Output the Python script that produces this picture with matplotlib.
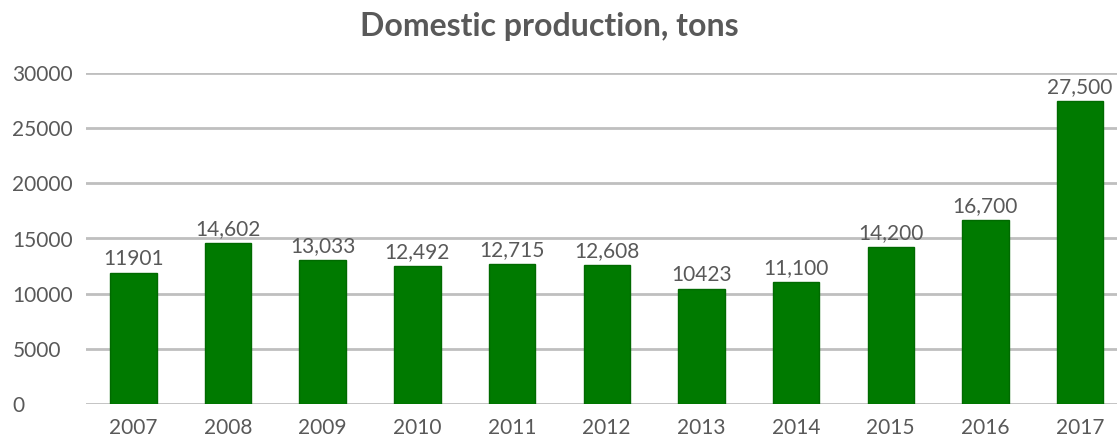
import numpy as np
import matplotlib.pyplot as plt

plt.rcParams['font.family'] = ['Lato', 'DejaVu Sans']

years = ['2007', '2008', '2009', '2010', '2011', '2012', '2013', '2014', '2015', '2016', '2017']
production = [11901, 14602, 13033, 12492, 12715, 12608, 10423, 11100, 14200, 16700, 27500]
value_labels = ['11901', '14,602', '13,033', '12,492', '12,715', '12,608', '10423',
                '11,100', '14,200', '16,700', '27,500']

txt = '#595959'

fig = plt.figure(figsize=(11.17, 4.4), dpi=100)
ax = fig.add_axes([86 / 1117, 36 / 440, 1 - 86 / 1117, 331 / 440])

x = np.arange(len(years))
ax.bar(x, production, width=0.49, color='#007A00', edgecolor='#006A00', linewidth=1, zorder=3)
for xi, v, lab in zip(x, production, value_labels):
    ax.text(xi, v + 350, lab, ha='center', va='bottom', fontsize=15, color=txt)

ax.set_xlim(-0.5, 10.39)
ax.set_ylim(0, 30000)
ax.set_yticks(np.arange(0, 30001, 5000))
ax.set_xticks(x)
ax.set_xticklabels(years)
ax.grid(axis='y', color='#BFBFBF', linewidth=2, zorder=0)
for s in ax.spines.values():
    s.set_visible(False)
ax.tick_params(length=0, labelsize=15, colors=txt)
ax.tick_params(axis='y', pad=53)
ax.tick_params(axis='x', pad=10)
for lab in ax.get_yticklabels():
    lab.set_horizontalalignment('left')

fig.text(0.4915, 0.94, 'Domestic production, tons', ha='center', va='center',
         fontsize=23, fontweight='bold', color=txt)

fig.savefig('out.png', dpi=100)
